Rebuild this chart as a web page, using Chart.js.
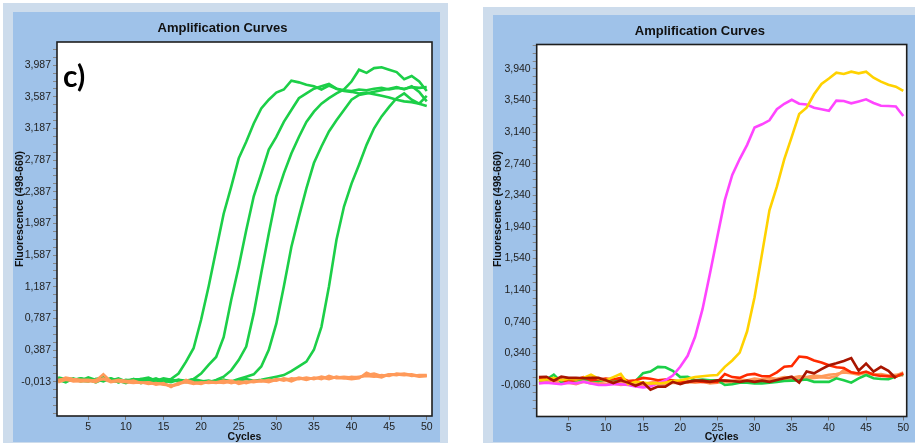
<!DOCTYPE html>
<html><head><meta charset="utf-8">
<script src="https://cdn.jsdelivr.net/npm/chart.js@4"></script>
<style>
html,body{margin:0;padding:0;background:#fff;}
body{width:915px;height:443px;position:relative;overflow:hidden;font-family:"Liberation Sans",Arial,sans-serif;}
.outer{position:absolute;background:#cddcec;}
.inner{position:absolute;background:#9fc2e9;}
.cv{position:absolute;}
.lbl{position:absolute;font-family:Lato,"Open Sans",sans-serif;font-weight:700;font-size:30px;color:#000;line-height:1;}
</style></head><body>
<div class="outer" style="left:3px;top:3px;width:445px;height:450px"></div>
<div class="inner" style="left:13px;top:12px;width:427px;height:430px"></div>
<div class="outer" style="left:483px;top:7px;width:440px;height:450px"></div>
<div class="inner" style="left:493px;top:15px;width:430px;height:427px"></div>
<canvas id="c1" class="cv" width="427" height="431" style="left:13px;top:12px"></canvas>
<canvas id="c2" class="cv" width="422" height="428" style="left:493px;top:15px"></canvas>
<div class="lbl" style="left:63px;top:60px">c)</div>
<script>
// ---------- data ----------
const cycles = [1,2,3,4,5,6,7,8,9,10,11,12,13,14,15,16,17,18,19,20,21,22,23,24,25,26,27,28,29,30,31,32,33,34,35,36,37,38,39,40,41,42,43,44,45,46,47,48,49,50];
const xTickValues = [5,10,15,20,25,30,35,40,45,50];
const chartTitle = "Amplification Curves";
const xTitle = "Cycles";
const yTitle = "Fluorescence (498-660)";
const panelLabel = "c)";

// left panel
const leftYMajors = [-0.013,0.387,0.787,1.187,1.587,1.987,2.387,2.787,3.187,3.587,3.987];
const leftGreen1 = [0.03,0.01,0.02,-0.01,0.02,0.00,0.04,0.01,-0.02,0.00, 0.02,-0.01,0.03,0.00,0.01,0.02,0.09,0.24,0.41,0.77, 1.19,1.65,2.11,2.45,2.81,3.02,3.25,3.44,3.55,3.64, 3.68,3.79,3.77,3.74,3.72,3.68,3.73,3.69,3.66,3.65, 3.63,3.64,3.62,3.60,3.58,3.55,3.53,3.52,3.50,3.47];
const leftGreen2 = [0.01,-0.02,0.03,0.00,-0.01,0.02,0.04,-0.01,0.00,-0.03, 0.01,0.02,-0.02,0.00,0.03,0.01,-0.01,0.00,0.02,0.09, 0.20,0.30,0.55,1.02,1.44,1.90,2.33,2.62,2.92,3.08, 3.27,3.42,3.57,3.63,3.69,3.72,3.75,3.69,3.67,3.66, 3.68,3.67,3.69,3.70,3.68,3.70,3.69,3.71,3.70,3.71];
const leftGreen3 = [0.04,0.02,0.00,0.03,0.01,-0.02,0.02,0.00,0.03,-0.01, 0.00,0.02,0.04,0.00,-0.02,0.01,0.00,-0.01,0.02,0.00, -0.02,0.01,0.05,0.13,0.26,0.43,0.85,1.36,1.86,2.33, 2.62,2.87,3.08,3.27,3.40,3.50,3.57,3.63,3.68,3.78, 3.93,3.89,3.95,3.96,3.93,3.90,3.81,3.85,3.78,3.66];
const leftGreen4 = [-0.01,0.03,0.02,0.00,0.04,0.01,0.00,0.03,-0.02,0.01, 0.00,-0.03,0.02,0.01,0.00,-0.02,0.01,0.00,-0.03,-0.01, 0.00,-0.02,0.01,-0.01,0.02,0.05,0.08,0.18,0.39,0.72, 1.19,1.69,2.07,2.43,2.75,2.96,3.15,3.29,3.42,3.55, 3.61,3.63,3.65,3.67,3.69,3.71,3.68,3.72,3.65,3.53];
const leftGreen5 = [0.02,0.00,0.01,0.03,0.00,0.02,-0.01,0.03,0.00,-0.02, 0.02,0.01,0.00,0.03,-0.01,0.00,0.01,-0.02,0.00,-0.01, -0.02,0.00,0.01,-0.01,0.00,0.02,0.00,0.01,0.03,0.05, 0.07,0.12,0.18,0.24,0.39,0.68,1.19,1.78,2.20,2.49, 2.73,2.98,3.19,3.34,3.46,3.57,3.63,3.55,3.50,3.60];
const leftOrange1 = [0.00,0.04,0.02,0.01,0.01,0.00,0.08,-0.01,0.01,0.00, -0.01,-0.03,-0.02,-0.04,-0.04,-0.07,-0.05,0.01,-0.02,-0.03, -0.02,-0.03,-0.01,0.00,-0.04,-0.02,-0.01,0.00,-0.02,0.01, 0.02,-0.01,0.03,0.01,0.04,0.02,0.06,0.03,0.03,0.02, 0.03,0.10,0.06,0.04,0.08,0.08,0.07,0.08,0.06,0.06];
const leftOrange2 = [-0.02,0.01,0.00,-0.01,0.00,-0.02,0.03,0.00,-0.01,-0.02, -0.03,-0.02,-0.04,-0.03,-0.05,-0.06,-0.04,-0.02,-0.04,-0.02, -0.03,-0.02,-0.03,-0.01,-0.02,-0.01,-0.02,0.00,-0.01,0.02, 0.00,0.03,0.02,0.04,0.02,0.05,0.03,0.04,0.05,0.04, 0.05,0.06,0.05,0.07,0.06,0.09,0.08,0.06,0.07,0.07];
const leftOrange3 = [0.01,0.02,-0.01,0.00,-0.01,0.01,0.02,-0.02,0.00,-0.01, 0.00,-0.03,-0.02,-0.05,-0.03,-0.08,-0.03,-0.01,-0.03,-0.04, -0.01,-0.02,0.00,-0.03,-0.01,-0.03,0.00,-0.01,0.01,0.00, 0.03,0.01,0.04,0.02,0.03,0.04,0.02,0.05,0.03,0.05, 0.04,0.07,0.09,0.06,0.08,0.07,0.09,0.07,0.05,0.06];

// right panel
const rightYMajors = [-0.060,0.340,0.740,1.140,1.540,1.940,2.340,2.740,3.140,3.540,3.940];
const rightGreen = [0.00,0.01,0.07,-0.02,-0.01,0.00,0.02,0.00,-0.01,0.01, 0.00,0.02,-0.02,-0.01,0.09,0.11,0.17,0.165,0.12,0.04, 0.045,0.00,0.01,0.00,0.00,-0.06,-0.05,-0.03,-0.03,-0.04, -0.04,-0.03,-0.02,-0.01,-0.005,0.00,0.01,-0.02,-0.02,-0.02, 0.025,0.00,-0.03,0.025,0.067,0.025,0.015,0.012,0.046,0.08];
const rightMagenta = [-0.04,-0.03,-0.04,-0.05,-0.03,-0.04,-0.02,-0.04,-0.06,-0.06, -0.05,-0.05,-0.06,-0.08,-0.09,-0.08,-0.04,0.00,0.06,0.17, 0.31,0.55,0.90,1.35,1.82,2.28,2.60,2.80,2.98,3.20, 3.24,3.29,3.43,3.50,3.55,3.50,3.49,3.45,3.43,3.41, 3.54,3.535,3.505,3.53,3.556,3.51,3.475,3.472,3.465,3.345];
const rightYellow = [0.00,0.01,0.03,0.00,0.02,0.01,0.03,0.07,0.02,0.00, 0.04,0.08,-0.05,-0.02,-0.03,-0.04,-0.04,-0.03,-0.01,0.00, 0.02,0.04,0.05,0.06,0.067,0.17,0.25,0.35,0.62,1.05, 1.60,2.15,2.45,2.80,3.08,3.37,3.45,3.62,3.75,3.82, 3.894,3.877,3.906,3.885,3.906,3.83,3.78,3.74,3.716,3.662];
const rightRed = [0.02,0.03,0.00,0.01,-0.02,0.01,0.04,0.00,0.01,0.02, 0.01,0.03,-0.01,0.00,0.03,0.02,0.00,0.01,0.00,-0.02, -0.02,-0.01,-0.02,-0.02,-0.02,0.08,0.04,0.03,0.07,0.08, 0.05,0.05,0.10,0.17,0.18,0.30,0.29,0.25,0.225,0.19, 0.165,0.155,0.10,0.085,0.11,0.07,0.055,0.05,0.045,0.085];
const rightDarkRed = [0.04,0.045,-0.005,0.045,0.03,0.03,0.025,0.03,0.03,0.00, -0.035,0.00,-0.03,-0.07,-0.03,-0.12,-0.08,-0.08,-0.02,-0.05, -0.02,-0.005,-0.005,-0.02,0.00,-0.005,-0.01,-0.02,-0.005,-0.02, -0.005,-0.02,0.003,0.025,0.046,-0.03,0.11,0.088,0.14,0.19, 0.215,0.245,0.28,0.12,0.21,0.11,0.17,0.12,0.025,null];
const rightOrange1 = [-0.03,-0.01,-0.02,-0.04,-0.03,-0.05,-0.02,-0.04,-0.03,-0.05, -0.04,-0.06,-0.05,-0.07,-0.06,-0.05,-0.04,-0.05,-0.03,-0.04, -0.02,-0.03,-0.02,-0.04,-0.03,-0.02,-0.03,-0.01,-0.02,-0.01, -0.02,0.00,0.01,0.02,0.01,0.03,0.02,0.03,0.04,0.03, 0.05,0.13,0.10,0.08,0.09,0.07,0.08,0.06,0.07,0.06];
const rightOrange2 = [0.00,0.02,0.01,-0.01,0.00,-0.02,0.01,-0.01,-0.02,-0.01, -0.03,-0.02,-0.04,-0.03,-0.05,-0.03,-0.02,-0.03,-0.02,-0.01, -0.03,-0.01,0.00,-0.02,-0.01,0.00,-0.01,0.01,0.00,0.02, 0.01,0.03,0.02,0.04,0.03,0.05,0.04,0.06,0.05,0.07, 0.08,0.10,0.09,0.07,0.10,0.08,0.07,0.05,0.06,0.10];

// ---------- helpers ----------
const FONT = '"Liberation Sans", Arial, sans-serif';
const GREEN = '#1ccf48', ORANGE = '#ff9a5a', MAGENTA = '#ff45ff', YELLOW = '#ffd200', RED = '#ff2a00', DARKRED = '#a81500';

function ds(values, color) {
  return { data: values.map((v, i) => ({ x: cycles[i], y: v })), borderColor: color, backgroundColor: color,
           borderWidth: 2.6, pointRadius: 0, tension: 0, fill: false, spanGaps: false };
}
function fmt(v) { return v.toFixed(3).replace('.', ','); }

const framePlugin = {
  id: 'framePlugin',
  beforeDraw(chart) {
    const a = chart.chartArea, c = chart.ctx;
    c.save(); c.fillStyle = '#ffffff'; c.fillRect(a.left, a.top, a.right - a.left, a.bottom - a.top); c.restore();
  },
  afterDatasetsDraw(chart) {
    const a = chart.chartArea, c = chart.ctx;
    c.save(); c.strokeStyle = '#1e1e1e'; c.lineWidth = 1.6;
    c.strokeRect(a.left, a.top, a.right - a.left, a.bottom - a.top); c.restore();
  },
  afterDraw(chart, args, opts) {
    const c = chart.ctx;
    c.save();
    c.translate(opts.x, opts.y); c.rotate(-Math.PI / 2);
    c.font = 'bold 10.5px ' + FONT; c.fillStyle = '#111'; c.textAlign = 'center'; c.textBaseline = 'middle';
    c.fillText(opts.text, 0, 0);
    c.restore();
  }
};

function makeChart(id, datasets, cfg) {
  const majors = cfg.yMajors;
  const step = majors[1] - majors[0];
  const minor = [];
  for (let v = majors[0]; v >= cfg.yMin - 1e-9; v -= step / 4) minor.unshift(+v.toFixed(4));
  for (let v = majors[0] + step / 4; v <= cfg.yMax + 1e-9; v += step / 4) minor.push(+v.toFixed(4));
  const isMajor = v => majors.some(m => Math.abs(m - v) < 1e-6);
  return new Chart(document.getElementById(id), {
    type: 'line',
    data: { datasets },
    options: {
      responsive: false, animation: false, devicePixelRatio: 1,
      layout: { padding: { left: 0, right: cfg.padRight, top: 0, bottom: 0 } },
      plugins: {
        legend: { display: false }, tooltip: { enabled: false },
        title: { display: true, text: chartTitle, color: '#111', font: { family: FONT, size: 13, weight: 'bold' },
                 padding: { top: cfg.tTop, bottom: cfg.tBottom } },
        framePlugin: { text: yTitle, x: cfg.yTitleX, y: cfg.yTitleY }
      },
      scales: {
        x: {
          type: 'linear', min: cfg.xMin, max: cfg.xMax,
          afterBuildTicks: s => { s.ticks = xTickValues.map(v => ({ value: v })); },
          afterFit: s => { s.height = cfg.xHeight; },
          ticks: { autoSkip: false, maxRotation: 0, padding: 1, color: '#222', font: { family: FONT, size: 10.5 },
                   callback: v => String(v) },
          grid: { drawOnChartArea: false, drawTicks: true, tickLength: 4, tickColor: '#777', color: '#777' },
          border: { display: false },
          title: { display: true, text: xTitle, color: '#111', font: { family: FONT, size: 10.5, weight: 'bold' }, padding: 0 }
        },
        y: {
          type: 'linear', min: cfg.yMin, max: cfg.yMax,
          afterBuildTicks: s => { s.ticks = minor.map(v => ({ value: v })); },
          afterFit: s => { s.width = cfg.yWidth; },
          ticks: { autoSkip: false, padding: 2, color: '#222', font: { family: FONT, size: 10.5 },
                   callback: v => isMajor(v) ? fmt(v) : '' },
          grid: { drawOnChartArea: false, drawTicks: true, tickLength: 4, tickColor: '#888', color: '#888' },
          border: { display: false },
          title: { display: false }
        }
      }
    },
    plugins: [framePlugin]
  });
}

makeChart('c1', [
  ds(leftOrange1, ORANGE), ds(leftOrange2, ORANGE), ds(leftOrange3, ORANGE),
  ds(leftGreen1, GREEN), ds(leftGreen2, GREEN), ds(leftGreen3, GREEN), ds(leftGreen4, GREEN), ds(leftGreen5, GREEN)
], { yMajors: leftYMajors, yMin: -0.4465, yMax: 4.28, xMin: 0.84, xMax: 50.7,
     yWidth: 44, xHeight: 27, padRight: 8, tTop: 8.2, tBottom: 6.2, yTitleX: 7, yTitleY: 197 });

makeChart('c2', [
  ds(rightDarkRed, DARKRED), ds(rightYellow, YELLOW), ds(rightMagenta, MAGENTA), ds(rightRed, RED),
  ds(rightGreen, GREEN), ds(rightOrange1, ORANGE), ds(rightOrange2, ORANGE)
], { yMajors: rightYMajors, yMin: -0.4587, yMax: 4.25, xMin: 0.70, xMax: 50.46,
     yWidth: 43.7, xHeight: 26.5, padRight: 8.3, tTop: 8.2, tBottom: 5.7, yTitleX: 5.5, yTitleY: 194 });
</script>
</body></html>
